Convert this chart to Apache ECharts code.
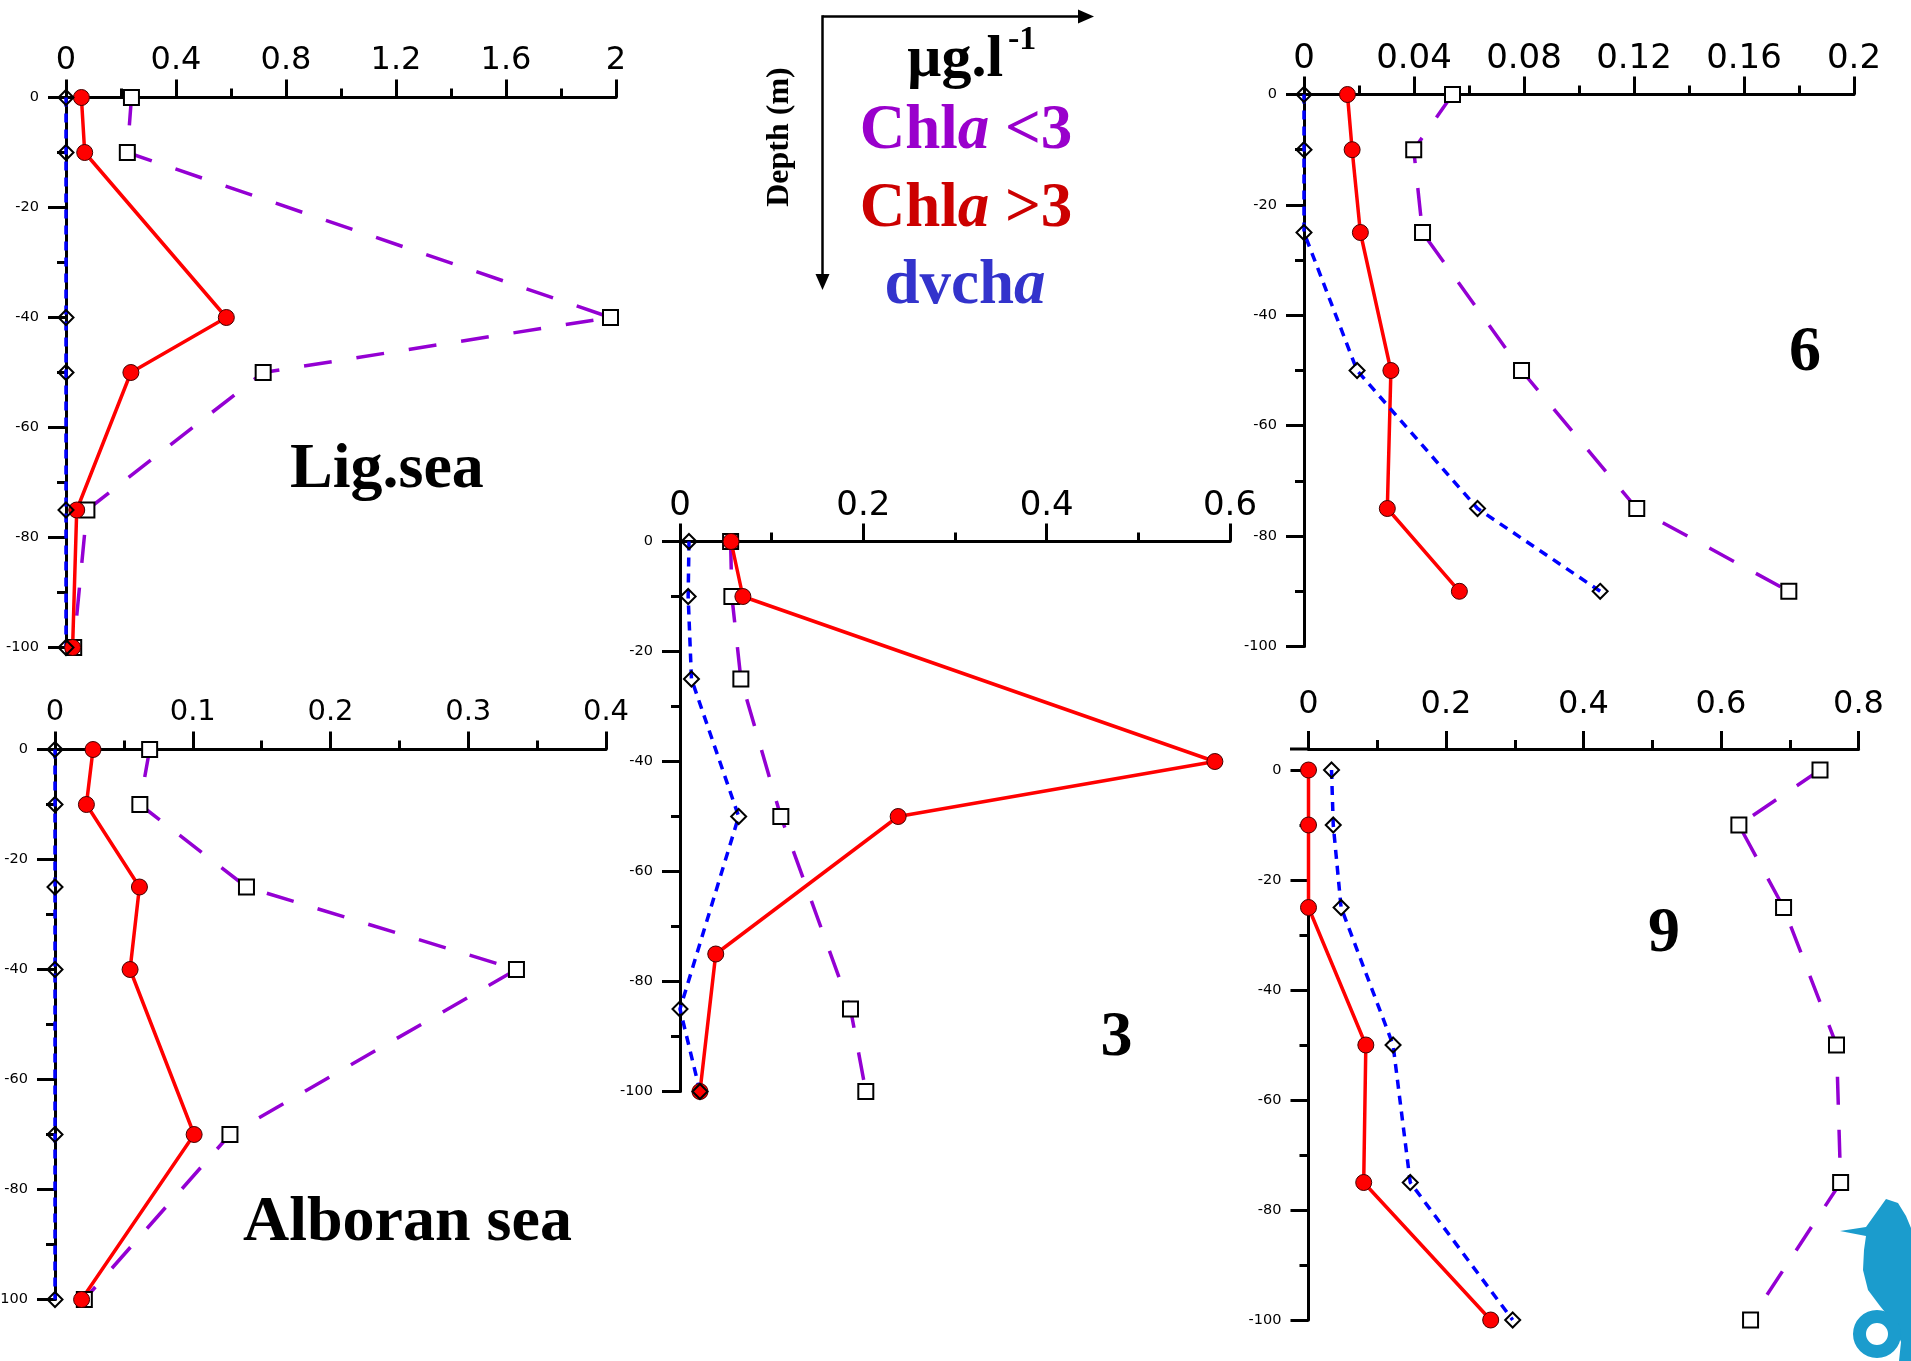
<!DOCTYPE html>
<html><head><meta charset="utf-8">
<script src="https://cdn.jsdelivr.net/npm/echarts@6/dist/echarts.min.js"></script>
<style>html,body{margin:0;padding:0;background:#fff}#c{width:1911px;height:1361px}</style>
</head><body><div id="c"></div><script>
// ---------- DATA (depth in m, concentration in µg/l) ----------
const ligDepth   = [0, -10, -40, -50, -75, -100];
const ligChlLt3  = [0.238, 0.223, 1.98, 0.717, 0.076, 0.028];
const ligChlGt3  = [0.056, 0.068, 0.583, 0.236, 0.039, 0.024];
const ligDvcha   = [0, 0, 0, 0, 0, 0];

const albDepth   = [0, -10, -25, -40, -70, -100];
const albChlLt3  = [0.0687, 0.0616, 0.139, 0.335, 0.127, 0.0213];
const albChlGt3  = [0.0276, 0.0228, 0.0613, 0.0545, 0.101, 0.0193];
const albDvcha   = [0, 0, 0, 0, 0, 0];

const st3DepthLt3 = [0, -10, -25, -50, -85, -100];
const st3ChlLt3   = [0.0552, 0.0566, 0.0664, 0.110, 0.186, 0.2027];
const st3DepthGt3 = [0, -10, -40, -50, -75, -100];
const st3ChlGt3   = [0.0557, 0.0686, 0.5835, 0.238, 0.039, 0.0218];
const st3DepthDv  = [0, -10, -25, -50, -85, -100];
const st3Dvcha    = [0.0098, 0.0089, 0.0125, 0.064, 0, 0.0218];

const st6Depth   = [0, -10, -25, -50, -75, -90];
const st6ChlLt3  = [0.054, 0.0399, 0.0431, 0.0791, 0.121, 0.1763];
const st6ChlGt3  = [0.0158, 0.0175, 0.0205, 0.0316, 0.0303, 0.0565];
const st6Dvcha   = [0, 0, 0, 0.0193, 0.0631, 0.1077];

const st9Depth   = [0, -10, -25, -50, -75, -100];
const st9ChlLt3  = [0.744, 0.626, 0.691, 0.768, 0.774, 0.643];
const st9ChlGt3  = [0, 0, 0, 0.0834, 0.0803, 0.265];
const st9Dvcha   = [0.0335, 0.036, 0.0474, 0.123, 0.148, 0.297];

const xMaxes     = [2, 0.4, 0.6, 0.2, 0.8];
const xIntervals = [0.4, 0.1, 0.2, 0.04, 0.2];
const depthMin = -100, depthMax = 0, depthInterval = 20;

const panelTitles = ['Lig.sea', 'Alboran sea', '3', '6', '9'];

// ---------- LAYOUT ----------
const grids = [
  {left: 66,   top: 97.5,  width: 550, height: 550},
  {left: 55,   top: 749.5, width: 551, height: 550},
  {left: 680,  top: 541.5, width: 550, height: 550},
  {left: 1304, top: 94.5,  width: 550, height: 552},
  {left: 1308.5, top: 770, width: 550, height: 550}
];
const xLabelSize   = [32, 29, 34, 34, 32];
const xLabelMargin = [21, 23, 18, 18, 28];
const xOffsets     = [0, 0, 0, 0, 21];

const zip = (xs, ys) => xs.map((x, i) => [x, ys[i]]);

const black = '#000';
const sans = 'DejaVu Sans';
const xAxes = grids.map((g, i) => ({
  type: 'value', gridIndex: i, position: 'top', offset: xOffsets[i],
  min: 0, max: xMaxes[i], interval: xIntervals[i],
  axisLine: {show: true, onZero: false, lineStyle: {color: black, width: 3}},
  axisTick: {show: true, length: 18, lineStyle: {color: black, width: 3}},
  minorTick: {show: true, splitNumber: 2, length: 9, lineStyle: {color: black, width: 3}},
  splitLine: {show: false},
  axisLabel: {color: black, fontSize: xLabelSize[i], fontFamily: sans, margin: xLabelMargin[i]}
}));
const yAxes = grids.map((g, i) => ({
  type: 'value', gridIndex: i,
  min: depthMin, max: depthMax, interval: depthInterval,
  axisLine: {show: true, onZero: false, lineStyle: {color: black, width: 3}},
  axisTick: {show: true, length: 18, lineStyle: {color: black, width: 3}},
  minorTick: {show: true, splitNumber: 2, length: 9, lineStyle: {color: black, width: 3}},
  splitLine: {show: false},
  axisLabel: {color: black, fontSize: 14.5, fontFamily: sans, margin: 27}
}));

const panelData = [
  {lt3: zip(ligChlLt3, ligDepth), gt3: zip(ligChlGt3, ligDepth), dv: zip(ligDvcha, ligDepth)},
  {lt3: zip(albChlLt3, albDepth), gt3: zip(albChlGt3, albDepth), dv: zip(albDvcha, albDepth)},
  {lt3: zip(st3ChlLt3, st3DepthLt3), gt3: zip(st3ChlGt3, st3DepthGt3), dv: zip(st3Dvcha, st3DepthDv)},
  {lt3: zip(st6ChlLt3, st6Depth), gt3: zip(st6ChlGt3, st6Depth), dv: zip(st6Dvcha, st6Depth)},
  {lt3: zip(st9ChlLt3, st9Depth), gt3: zip(st9ChlGt3, st9Depth), dv: zip(st9Dvcha, st9Depth)}
];

const purple = '#9400D3', red = '#FF0000', blue = '#0000FF';
const series = [];
panelData.forEach((p, i) => {
  series.push({
    type: 'line', name: 'Chla <3', xAxisIndex: i, yAxisIndex: i, data: p.lt3,
    clip: false, symbol: 'rect', symbolSize: 15,
    lineStyle: {color: purple, width: 3.5, type: [28, 25]},
    itemStyle: {color: '#fff', borderColor: black, borderWidth: 2}
  });
  series.push({
    type: 'line', name: 'Chla >3', xAxisIndex: i, yAxisIndex: i, data: p.gt3,
    clip: false, symbol: 'circle', symbolSize: 16,
    lineStyle: {color: red, width: 3.5},
    itemStyle: {color: red, borderColor: '#400', borderWidth: 1}
  });
  series.push({
    type: 'line', name: 'dvcha', xAxisIndex: i, yAxisIndex: i, data: p.dv,
    clip: false, symbol: 'diamond', symbolSize: 15,
    lineStyle: {color: blue, width: 3.5, type: [9, 7]},
    itemStyle: {color: 'rgba(255,255,255,0)', borderColor: black, borderWidth: 2}
  });
});

const serif = '"Liberation Serif", "Times New Roman", serif';
function txt(text, x, y, size, fill, align, extra) {
  return Object.assign({
    type: 'text', x: x, y: y, silent: true,
    style: {text: text, fill: fill, font: 'bold ' + size + 'px ' + serif,
      align: align, verticalAlign: 'middle', textAlign: align, textVerticalAlign: 'middle'}
  }, extra || {});
}
function richTxt(pre, post, x, y, size, fill) {
  const base = {fontSize: size, fontFamily: serif, fontWeight: 'bold', fill: fill};
  return {
    type: 'text', x: x, y: y, silent: true,
    style: {text: '{b|' + pre + '}{i|a}{b|' + post + '}', align: 'center', verticalAlign: 'middle',
      textAlign: 'center', textVerticalAlign: 'middle',
      rich: {b: base, i: Object.assign({}, base, {fontStyle: 'italic'})}}
  };
}

const graphic = [
  // unit / axis-direction sketch
  {type: 'line', silent: true, shape: {x1: 822.5, y1: 16.5, x2: 1082, y2: 16.5}, style: {stroke: black, lineWidth: 2.5}},
  {type: 'polygon', silent: true, shape: {points: [[1094, 16.5], [1078, 9.5], [1078, 23.5]]}, style: {fill: black}},
  {type: 'line', silent: true, shape: {x1: 822.5, y1: 15.3, x2: 822.5, y2: 278}, style: {stroke: black, lineWidth: 2.5}},
  {type: 'polygon', silent: true, shape: {points: [[822.5, 290], [815.5, 274], [829.5, 274]]}, style: {fill: black}},
  txt('Depth (m)', 780, 137, 32, black, 'center', {rotation: Math.PI / 2}),
  txt('µg.l', 907, 60, 60, black, 'left'),
  txt('-1', 1008, 40, 34, black, 'left'),
  richTxt('Chl', ' <3', 966, 132, 63, '#9900CC'),
  richTxt('Chl', ' >3', 966, 210, 63, '#CC0000'),
  {type: 'text', x: 965, y: 287, silent: true,
   style: {text: '{b|dvch}{i|a}', align: 'center', verticalAlign: 'middle', textAlign: 'center', textVerticalAlign: 'middle',
     rich: {b: {fontSize: 63, fontFamily: serif, fontWeight: 'bold', fill: '#3333CC'},
            i: {fontSize: 63, fontFamily: serif, fontWeight: 'bold', fontStyle: 'italic', fill: '#3333CC'}}}},
  // panel titles
  txt(panelTitles[0], 290, 470, 64, black, 'left'),
  txt(panelTitles[1], 243, 1223, 64, black, 'left'),
  txt(panelTitles[2], 1116.5, 1038, 64, black, 'center'),
  txt(panelTitles[3], 1805, 353, 64, black, 'center'),
  txt(panelTitles[4], 1664, 934, 64, black, 'center'),
  // panel 9: axis line runs a little past its origin
  {type: 'line', silent: true, shape: {x1: 1290, y1: 749, x2: 1309, y2: 749}, style: {stroke: black, lineWidth: 3}},
  // seahorse logo (decoration)
  {type: 'polygon', silent: true, shape: {points: [[1840, 1231], [1866, 1227], [1876, 1213], [1886, 1199], [1898, 1203],
     [1906, 1216], [1911, 1228], [1911, 1361], [1899, 1361], [1901, 1342], [1893, 1322], [1880, 1306],
     [1868, 1290], [1863, 1270], [1864, 1250], [1866, 1236]]}, style: {fill: '#1b9ccd'}},
  {type: 'ring', silent: true, shape: {cx: 1877, cy: 1334, r: 24, r0: 11}, style: {fill: '#1b9ccd'}}
];

const chart = echarts.init(document.getElementById('c'), null, {renderer: 'canvas'});
chart.setOption({
  animation: false,
  backgroundColor: '#fff',
  grid: grids.map(g => Object.assign({containLabel: false, outerBoundsMode: 'none'}, g)),
  xAxis: xAxes,
  yAxis: yAxes,
  series: series,
  graphic: graphic
});
</script></body></html>
